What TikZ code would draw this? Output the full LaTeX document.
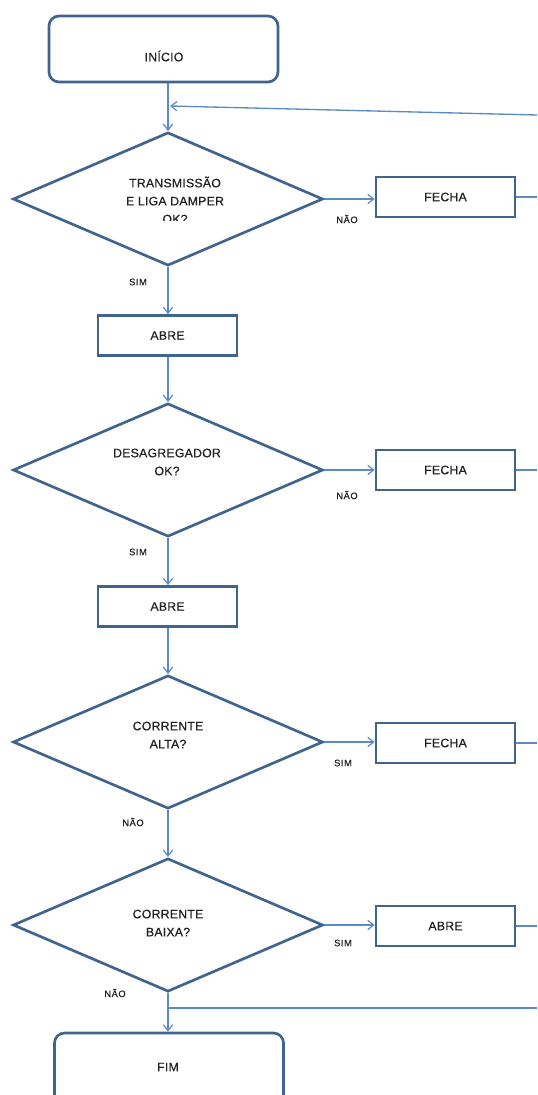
\documentclass[tikz,border=0pt]{standalone}
\usepackage{fontspec}
\setmainfont{Liberation Sans}
\newfontfamily\boxfont[LetterSpace=2,FakeBold=0.6]{Liberation Sans}
\newfontfamily\lblfont[LetterSpace=6,FakeBold=0.8]{Liberation Sans}
\usetikzlibrary{shapes.geometric,arrows.meta}
\definecolor{bd}{HTML}{41648F}
\definecolor{ar}{HTML}{5B8AC6}
\definecolor{tx}{HTML}{222222}
\begin{document}
\begin{tikzpicture}[x=0.75pt,y=-0.75pt,
  brd/.style={draw=bd,line width=2pt},
  term/.style={brd,rectangle,rounded corners=7.5pt,minimum width=171.75pt,inner sep=0pt},
  proc/.style={brd,rectangle,minimum width=104.25pt,minimum height=30pt,inner sep=0pt,
     text=tx,font=\boxfont\fontsize{9.2}{10}\selectfont},
  dec/.style={brd,diamond,minimum width=232.5pt,minimum height=100pt,inner sep=0pt},
  txt/.style={inner sep=0pt,align=center,text=tx,font=\boxfont\fontsize{9.2}{13.5}\selectfont},
  lbl/.style={inner sep=0pt,text=tx,font=\lblfont\fontsize{7}{8}\selectfont},
  ln/.style={draw=ar,line width=1pt},
  arr/.style={ln,-{Straight Barb[length=4.5pt,width=7pt,line width=0.9pt]}}]
\path[use as bounding box,clip] (0,0) rectangle (537,1095);

% nodes
\node[term,minimum height=49.5pt] (start) at (163.5,49) {};
\node[txt] (starttxt) at (164,56) {INÍCIO};

\node[dec] (d1) at (168,199) {};
\begin{scope}
  \clip (60,160) rectangle (280,220.5);
  \node[txt] (d1txt) at (175,200) {TRANSMISSÃO\\E LIGA DAMPER\\OK?};
\end{scope}
\node[proc] (fecha1) at (445.5,197) {FECHA};
\node[proc] (abre1) at (167.5,335.5) {ABRE};

\node[dec] (d2) at (168,470) {};
\node[txt] (d2txt) at (167,462) {DESAGREGADOR\\OK?};
\node[proc] (fecha2) at (445.5,470) {FECHA};
\node[proc] (abre2) at (167.5,606.5) {ABRE};

\node[dec] (d3) at (168,742) {};
\node[txt] (d3txt) at (168,735) {CORRENTE\\ALTA?};
\node[proc] (fecha3) at (445.5,743) {FECHA};

\node[dec] (d4) at (168,925) {};
\node[txt] (d4txt) at (168,923) {CORRENTE\\BAIXA?};
\node[proc] (abre4) at (445.5,926) {ABRE};

\node[term,minimum height=60pt] (fim) at (169,1073) {};
\node[txt] (fimtxt) at (168,1067) {FIM};

% labels
\node[lbl] (l1) at (347,219) {NÃO};
\node[lbl] (l2) at (138,282) {SIM};
\node[lbl] (l3) at (347,495) {NÃO};
\node[lbl] (l4) at (138,552) {SIM};
\node[lbl] (l5) at (343,763) {SIM};
\node[lbl] (l6) at (133,822) {NÃO};
\node[lbl] (l7) at (343,943) {SIM};
\node[lbl] (l8) at (115,993) {NÃO};

% coordinates
\coordinate (fbR) at (537,115);
\coordinate (fbL) at (170,106);
\coordinate (e1) at (537,197);
\coordinate (e2) at (537,470);
\coordinate (e3) at (537,743);
\coordinate (e4) at (537,926);
\coordinate (j) at (169,1008);
\coordinate (e5) at (537,1008);

% connectors
\draw[arr] (start.south -| d1.north) -- (d1.north);
\draw[arr] (fbR) -- (fbL);
\draw[arr] (d1.east) -- (fecha1.west |- d1.east);
\draw[ln] (fecha1.east) -- (e1);
\draw[arr] (d1.south) -- (abre1.north -| d1.south);
\draw[arr] (abre1.south -| d2.north) -- (d2.north);
\draw[arr] (d2.east) -- (fecha2.west);
\draw[ln] (fecha2.east) -- (e2);
\draw[arr] (d2.south) -- (abre2.north -| d2.south);
\draw[arr] (abre2.south -| d3.north) -- (d3.north);
\draw[arr] (d3.east) -- (fecha3.west |- d3.east);
\draw[ln] (fecha3.east) -- (e3);
\draw[arr] (d3.south) -- (d4.north);
\draw[arr] (d4.east) -- (abre4.west |- d4.east);
\draw[ln] (abre4.east) -- (e4);
\draw[arr] (d4.south) -- (fim.north -| d4.south);
\draw[ln] (j) -- (e5);
\end{tikzpicture}
\end{document}
